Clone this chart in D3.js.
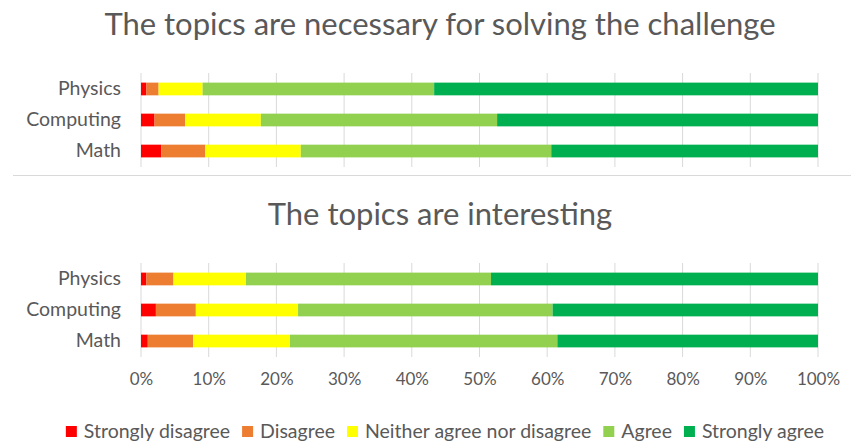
<!DOCTYPE html>
<html>
<head>
<meta charset="utf-8">
<script src="https://cdn.jsdelivr.net/npm/d3@7"></script>
<style>
  body { margin: 0; background: #fff; }
  text { font-family: Lato, "Open Sans", sans-serif; fill: #595959; }
</style>
</head>
<body>
<div id="chart"></div>
<script>
// data ---------------------------------------------------------------
const categories = ["Physics", "Computing", "Math"];
const seriesNames = ["Strongly disagree", "Disagree", "Neither agree nor disagree", "Agree", "Strongly agree"];
const seriesColors = ["#ff0000", "#ed7d31", "#ffff00", "#92d050", "#00b050"];
const titles = ["The topics are necessary for solving the challenge", "The topics are interesting"];
const tickValues = [0, 0.1, 0.2, 0.3, 0.4, 0.5, 0.6, 0.7, 0.8, 0.9, 1];

// percentages per category (Physics, Computing, Math)
const necessaryStronglyDisagree = [0.8, 2.0, 3.0];
const necessaryDisagree = [1.8, 4.5, 6.5];
const necessaryNeither = [6.5, 11.2, 14.1];
const necessaryAgree = [34.2, 34.9, 37.0];
const necessaryStronglyAgree = [56.7, 47.4, 39.4];

const interestingStronglyDisagree = [0.8, 2.2, 1.0];
const interestingDisagree = [4.0, 5.9, 6.7];
const interestingNeither = [10.7, 15.1, 14.3];
const interestingAgree = [36.2, 37.6, 39.5];
const interestingStronglyAgree = [48.3, 39.2, 38.5];

const panels = [
  [necessaryStronglyDisagree, necessaryDisagree, necessaryNeither, necessaryAgree, necessaryStronglyAgree],
  [interestingStronglyDisagree, interestingDisagree, interestingNeither, interestingAgree, interestingStronglyAgree]
];

// layout --------------------------------------------------------------
const width = 851, height = 442;
const svg = d3.select("#chart").append("svg")
  .attr("width", width)
  .attr("height", height);

const x = d3.scaleLinear().domain([0, 1]).range([141, 818]);
const color = d3.scaleOrdinal().domain(seriesNames).range(seriesColors);

const panelTops = [73, 263];
const panelHeight = 94;
const titleY = [35, 225];

panels.forEach((series, p) => {
  // stack rows into a table the stack layout understands
  const rows = categories.map((c, i) => {
    const row = { category: c };
    seriesNames.forEach((s, k) => { row[s] = series[k][i] / 100; });
    return row;
  });
  const stacked = d3.stack().keys(seriesNames)(rows);

  const y = d3.scaleBand()
    .domain(categories)
    .range([panelTops[p], panelTops[p] + panelHeight])
    .paddingInner(0.59)
    .paddingOuter(0.31);

  const g = svg.append("g");

  // gridlines
  g.selectAll("line.grid")
    .data(tickValues)
    .enter().append("line")
    .attr("x1", d => x(d)).attr("x2", d => x(d))
    .attr("y1", panelTops[p]).attr("y2", panelTops[p] + panelHeight)
    .attr("stroke", "#d9d9d9")
    .attr("stroke-width", 1);

  // bars
  g.selectAll("g.layer")
    .data(stacked)
    .enter().append("g")
    .attr("fill", d => color(d.key))
    .selectAll("rect")
    .data(d => d)
    .enter().append("rect")
    .attr("x", d => x(d[0]))
    .attr("width", d => x(d[1]) - x(d[0]))
    .attr("y", d => y(d.data.category))
    .attr("height", y.bandwidth());

  // category labels
  const yAxis = d3.axisLeft(y).tickSize(0).tickPadding(0);
  g.append("g")
    .attr("transform", "translate(121,0)")
    .call(yAxis)
    .call(a => a.select(".domain").remove())
    .selectAll("text")
    .attr("font-size", 19.5)
    .style("font-family", "Lato, sans-serif")
    .attr("fill", "#595959");

  // title
  svg.append("text")
    .attr("x", 440)
    .attr("y", titleY[p])
    .attr("text-anchor", "middle")
    .attr("font-size", 31)
    .text(titles[p]);
});

// separator between the two charts
svg.append("line")
  .attr("x1", 13).attr("x2", width)
  .attr("y1", 175.5).attr("y2", 175.5)
  .attr("stroke", "#d9d9d9");

// x axis labels
const xAxis = d3.axisBottom(x)
  .tickValues(tickValues)
  .tickFormat(d3.format(".0%"))
  .tickSize(0)
  .tickPadding(0);
svg.append("g")
  .attr("transform", "translate(0,373)")
  .call(xAxis)
  .call(a => a.select(".domain").remove())
  .selectAll("text")
  .attr("font-size", 17)
  .style("font-family", "Lato, sans-serif")
  .attr("fill", "#595959");

// legend
const legend = svg.append("g");
let lx = 0;
seriesNames.forEach(name => {
  const item = legend.append("g");
  item.append("rect")
    .attr("width", 11).attr("height", 11)
    .attr("y", -12)
    .attr("fill", color(name));
  const t = item.append("text")
    .attr("x", 18)
    .attr("font-size", 19.5)
    .text(name);
  const w = 18 + t.node().getComputedTextLength();
  item.attr("transform", `translate(${lx},0)`);
  lx += w + 12;
});
const legendWidth = lx - 12;
legend.attr("transform", `translate(${445 - legendWidth / 2},438)`);
</script>
</body>
</html>
